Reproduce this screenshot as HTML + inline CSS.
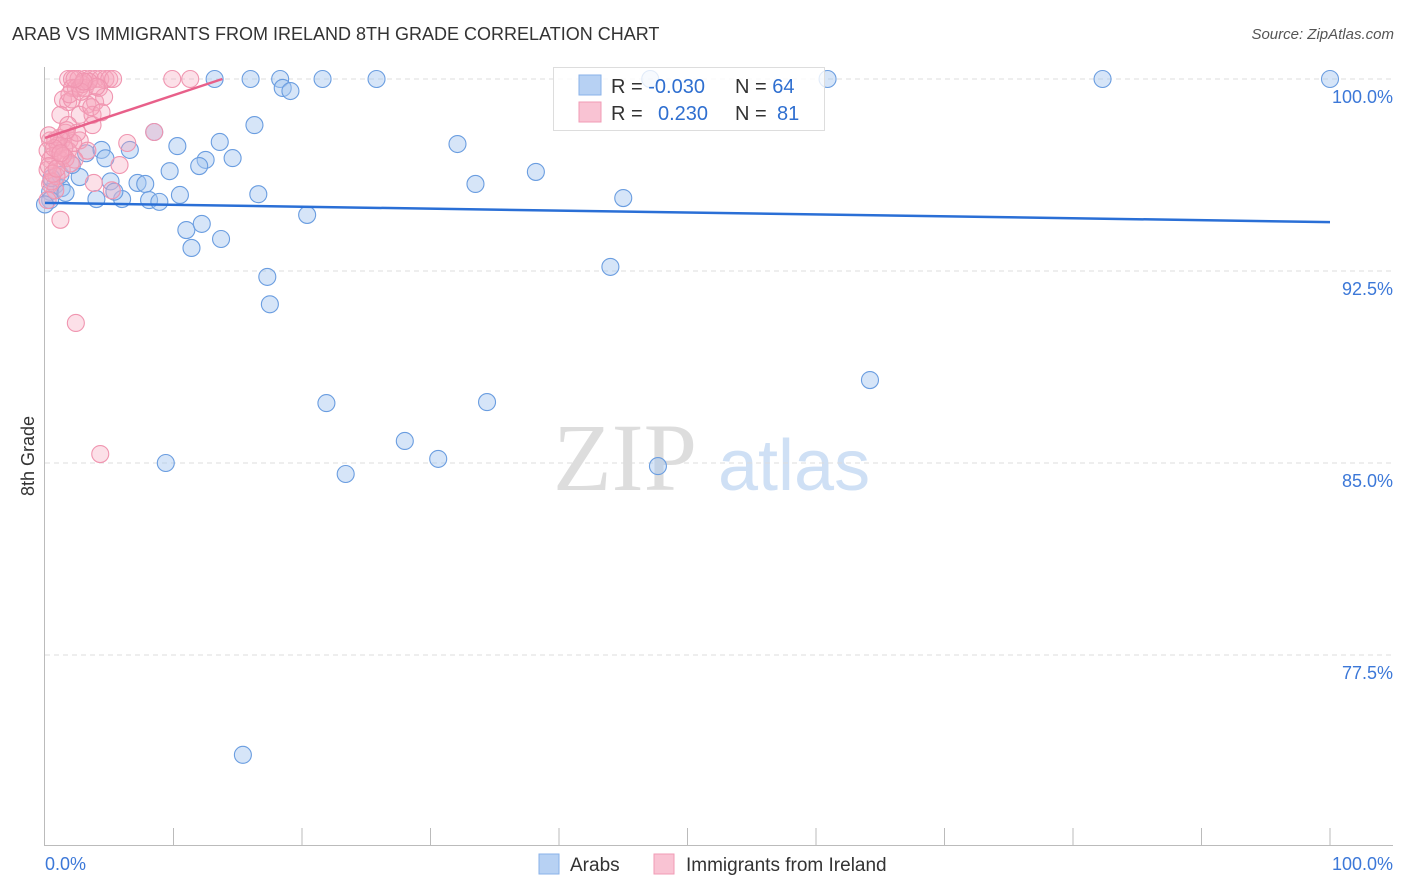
<!DOCTYPE html>
<html><head><meta charset="utf-8"><style>
body{margin:0;background:#fff;font-family:"Liberation Sans",sans-serif;}
svg{display:block}
</style></head><body>
<svg id="chart" width="1406" height="892">
<text x="12" y="40" font-size="18" fill="#333">ARAB VS IMMIGRANTS FROM IRELAND 8TH GRADE CORRELATION CHART</text>
<text x="1394" y="39" font-size="15" fill="#555" font-style="italic" text-anchor="end">Source: ZipAtlas.com</text>
<g><text x="553" y="490" font-size="96" font-family="Liberation Serif,serif" fill="#ddd">ZIP</text><text x="718" y="490" font-size="72" fill="#cfe0f5">atlas</text></g>
<g id="grid"></g><g id="axes"></g><g id="pts"></g><g id="trends"></g>
<text transform="translate(34,456) rotate(-90)" font-size="18" fill="#333" text-anchor="middle">8th Grade</text>
<g>
<rect x="553.5" y="67.5" width="271" height="63" fill="#fff" fill-opacity="0.8" stroke="#ddd"/>
<rect x="579" y="75" width="22" height="20" fill="#b7d1f3" stroke="#8ab2e8"/>
<rect x="579" y="102" width="22" height="20" fill="#f9c3d3" stroke="#f19bb6"/>
<text x="611" y="93" font-size="20" fill="#333">R = <tspan fill="#2f6fd0">-0.030</tspan></text>
<text x="735" y="93" font-size="20" fill="#333">N = <tspan fill="#2f6fd0">64</tspan></text>
<text x="611" y="120" font-size="20" fill="#333">R = <tspan fill="#2f6fd0" x="658">0.230</tspan></text>
<text x="735" y="120" font-size="20" fill="#333">N = <tspan fill="#2f6fd0" x="777">81</tspan></text>
</g>
<g>
<rect x="539" y="854" width="20" height="20" fill="#b7d1f3" stroke="#8ab2e8"/>
<text x="570" y="871" font-size="19" fill="#333">Arabs</text>
<rect x="654" y="854" width="20" height="20" fill="#f9c3d3" stroke="#f19bb6"/>
<text x="686" y="871" font-size="19" fill="#333">Immigrants from Ireland</text>
</g>
</svg>
<script>
const blueX=[13.2,16.0,18.3,21.6,25.8,47.1,60.9,82.3,100,18.5,19.1,8.5,16.3,13.6,10.3,3.2,4.4,6.6,12.5,14.6,12.0,9.7,38.2,32.1,33.5,5.1,7.2,7.8,0.8,1.3,0.4,1.6,4.0,6.0,8.1,8.9,10.5,16.6,45.0,20.4,11.0,12.2,13.7,11.4,2.7,44.0,17.3,17.5,64.2,21.9,34.4,28.0,9.4,30.6,47.7,23.4,15.4,0.4,0,4.7,1.2,2.1,5.4,0.5];
const blueY=[100,100,100,100,100,100,100,100,100,99.65,99.53,97.93,98.2,97.54,97.38,97.1,97.23,97.23,96.84,96.91,96.6,96.4,96.37,97.46,95.9,96.0,95.94,95.9,95.86,95.74,95.59,95.55,95.31,95.31,95.27,95.2,95.47,95.5,95.35,94.69,94.1,94.34,93.75,93.4,96.17,92.66,92.27,91.2,88.24,87.34,87.38,85.86,85.0,85.16,84.88,84.57,73.6,95.27,95.1,96.9,96.25,96.64,95.6,96.13];
const pinkX=[1.8,2.1,2.6,3.1,3.5,3.9,4.3,4.7,5.0,5.3,9.9,11.3,2.1,2.4,2.7,3.1,4.2,1.4,1.8,2.1,3.3,3.9,4.6,1.2,2.7,3.7,1.8,3.7,8.5,1.6,0.4,0.8,1.3,1.9,2.7,6.4,0.2,1.0,1.8,3.3,0.4,1.2,2.3,5.8,0.2,1.3,3.8,0.4,0.8,5.2,0.2,1.2,2.4,4.3,2.9,3.4,4.0,1.0,0.6,1.5,2.2,0.3,0.9,1.6,2.5,0.5,1.1,0.7,1.9,2.8,3.6,4.4,0.3,1.4,2.0,0.6,3.0,1.7,0.9,2.3,1.2];
const pinkY=[100,100,100,100,100,100,100,100,100,100,100,100,99.65,99.65,99.65,99.65,99.65,99.2,99.1,99.2,99.0,99.1,99.3,98.6,98.6,98.6,98.2,98.2,97.93,97.9,97.6,97.6,97.6,97.6,97.6,97.5,97.2,97.2,97.2,97.2,96.85,96.85,96.85,96.64,96.45,96.45,95.94,95.9,95.65,95.65,95.27,94.5,90.47,85.35,99.8,99.9,99.7,97.4,97.0,97.3,97.5,96.6,96.2,96.9,97.9,96.0,97.7,97.3,99.4,99.5,98.9,98.7,97.8,97.0,96.7,96.3,99.9,98.0,96.5,100,97.1];
const yTicks=[100,92.5,85,77.5];
const yTickLabels=["100.0%","92.5%","85.0%","77.5%"];
const blueTrend=[[0,95.16],[100,94.41]];
const pinkTrend=[[0,97.7],[13.8,100]];
const X0=45,X1=1330,Y100=79,PXPER=25.6;
const sx=v=>X0+(X1-X0)*v/100;
const sy=v=>Y100+(100-v)*PXPER;
const NS='http://www.w3.org/2000/svg';
function mk(tag,attrs,parent){const e=document.createElementNS(NS,tag);for(const k in attrs)e.setAttribute(k,attrs[k]);parent.appendChild(e);return e;}
const grid=document.getElementById('grid'),axes=document.getElementById('axes'),pts=document.getElementById('pts'),tr=document.getElementById('trends');
yTicks.forEach((t,i)=>{
  const l=mk('line',{x1:45,x2:1393,y1:sy(t),y2:sy(t),stroke:'#ddd','stroke-dasharray':'5,4'},grid);
  
  
  const tx=mk('text',{x:1393,y:sy(t)+24,'font-size':18,fill:'#3c78d8','text-anchor':'end'},axes);
  tx.textContent=yTickLabels[i];
  
  
});
let a=mk('line',{x1:44.5,x2:44.5,y1:67,y2:846,stroke:'#bbb'},axes);


a=mk('line',{x1:44,x2:1393,y1:845.5,y2:845.5,stroke:'#bbb'},axes);


for(let i=1;i<=10;i++){const l=mk('line',{x1:sx(i*10),x2:sx(i*10),y1:828,y2:845,stroke:'#bbb'},axes);
  
  }
[[0,'0.0%','start',45],[100,'100.0%','end',1393]].forEach(d=>{const t=mk('text',{x:d[3],y:870,'font-size':18,fill:'#3c78d8','text-anchor':d[2]},axes);t.textContent=d[1];
  
  });
blueX.forEach((x,i)=>{const c=mk('circle',{cx:sx(x),cy:sy(blueY[i]),r:8.5,fill:'rgba(165,198,240,0.45)',stroke:'#6a9de0','stroke-width':1.1},pts);
  
  });
pinkX.forEach((x,i)=>{const c=mk('circle',{cx:sx(x),cy:sy(pinkY[i]),r:8.5,fill:'rgba(245,165,190,0.35)',stroke:'#f095b0','stroke-width':1.1},pts);
  
  });
let t=mk('line',{x1:sx(blueTrend[0][0]),y1:sy(blueTrend[0][1]),x2:sx(blueTrend[1][0]),y2:sy(blueTrend[1][1]),stroke:'#2a6fd6','stroke-width':2.5},tr);


t=mk('line',{x1:sx(pinkTrend[0][0]),y1:sy(pinkTrend[0][1]),x2:sx(pinkTrend[1][0]),y2:sy(pinkTrend[1][1]),stroke:'#e8608a','stroke-width':2.5},tr);


</script>
</body></html>
